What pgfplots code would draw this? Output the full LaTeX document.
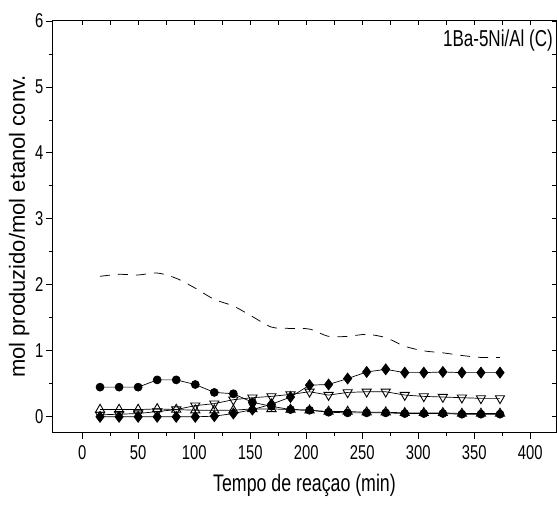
\documentclass[border=0pt]{standalone}
\usepackage{fontspec}
\setmainfont{Liberation Sans}
\newfontfamily\cond[FakeStretch=0.74]{Liberation Sans}
\usepackage{pgfplots}
\pgfplotsset{compat=1.18}
\usepackage{pgfplotstable}

\pgfplotstableread{
t   dash  circ  diam  dtri  utri
16  2.13  0.45  0.00  0.03  0.11
33  2.16  0.45  0.00  0.04  0.11
50  2.15  0.45  0.00  0.05  0.11
67  2.18  0.56  0.00  0.08  0.12
84  2.10  0.56  0.00  0.11  0.11
101 1.95  0.49  0.00  0.17  0.10
118 1.78  0.37  0.01  0.20  0.10
135 1.68  0.35  0.05  0.26  0.10
152 1.52  0.22  0.11  0.29  0.12
169 1.36  0.16  0.19  0.31  0.12
186 1.34  0.11  0.30  0.34  0.11
203 1.33  0.10  0.48  0.38  0.10
220 1.22  0.07  0.49  0.33  0.08
237 1.22  0.06  0.58  0.37  0.08
254 1.25  0.06  0.68  0.38  0.07
271 1.20  0.06  0.72  0.38  0.07
288 1.07  0.05  0.67  0.33  0.06
305 1.00  0.05  0.67  0.31  0.06
322 0.97  0.05  0.68  0.30  0.06
339 0.93  0.04  0.67  0.29  0.05
356 0.90  0.04  0.67  0.28  0.05
373 0.90  0.04  0.67  0.28  0.05
}\datatab

\begin{document}
\begin{tikzpicture}
\begin{axis}[
  name=main,
  scale only axis,
  width=503pt, height=411pt,
  xmin=-26, xmax=423,
  ymin=-0.23, ymax=6,
  axis line style={line width=1pt},
  xtick={0,50,...,400},
  ytick={0,1,...,6},
  minor x tick num=1,
  minor y tick num=1,
  xtick pos=left, ytick pos=left,
  tick align=outside,
  major tick length=7pt,
  minor tick length=4pt,
  tick style={line width=0.9pt, black},
  /pgf/number format/assume math mode=true,
  ticklabel style={font=\cond\fontsize{20}{20}\selectfont},
  xticklabel style={yshift=-3pt},
  yticklabel style={xshift=1pt},
  xlabel={Tempo de reaçao (min)},
  ylabel={mol produzido/mol etanol conv.},
  xlabel style={font=\cond\fontsize{24}{24}\selectfont, yshift=-8pt},
  ylabel style={font=\fontsize{22}{22}\selectfont, yshift=-1pt},
  clip=false,
]
\addplot[black, line width=0.75pt, dash pattern=on 10pt off 8pt, smooth, tension=0.5] table[x=t,y=dash] {\datatab};
\addplot[black, line width=0.7pt, mark=*, mark size=4pt, mark options={solid, fill=black}] table[x=t,y=circ] {\datatab};
\addplot[black, line width=0.7pt, mark=triangle, mark size=5.3pt, mark options={solid, fill=white, line width=0.9pt}] table[x=t,y=utri] {\datatab};
\addplot[black, line width=0.7pt, mark=triangle, mark size=5.3pt, mark options={solid, fill=white, line width=0.9pt, rotate=180}] table[x=t,y=dtri] {\datatab};
\addplot[black, line width=0.7pt, mark=diamond*, mark size=5.5pt, mark options={solid, fill=black}] table[x=t,y=diam] {\datatab};
\node[anchor=north east, font=\cond\fontsize{23}{23}\selectfont, inner sep=0pt] at (rel axis cs:0.994,0.98) {1Ba-5Ni/Al (C)};
\end{axis}
\begin{axis}[
  scale only axis,
  width=503pt, height=411pt,
  xmin=-26, xmax=423,
  ymin=-0.23, ymax=6,
  axis line style={line width=1pt},
  xtick={0,50,...,400},
  ytick={0,1,...,6},
  minor x tick num=1,
  minor y tick num=1,
  xtick pos=right, ytick pos=right,
  tick align=inside,
  major tick length=4pt,
  minor tick length=4pt,
  tick style={line width=0.9pt, black},
  xticklabels={}, yticklabels={},
]
\end{axis}
\pgfresetboundingbox
\path[use as bounding box] ([xshift=-53pt,yshift=-72pt]main.south west) rectangle ([xshift=1pt,yshift=21pt]main.north east);
\end{tikzpicture}
\end{document}
